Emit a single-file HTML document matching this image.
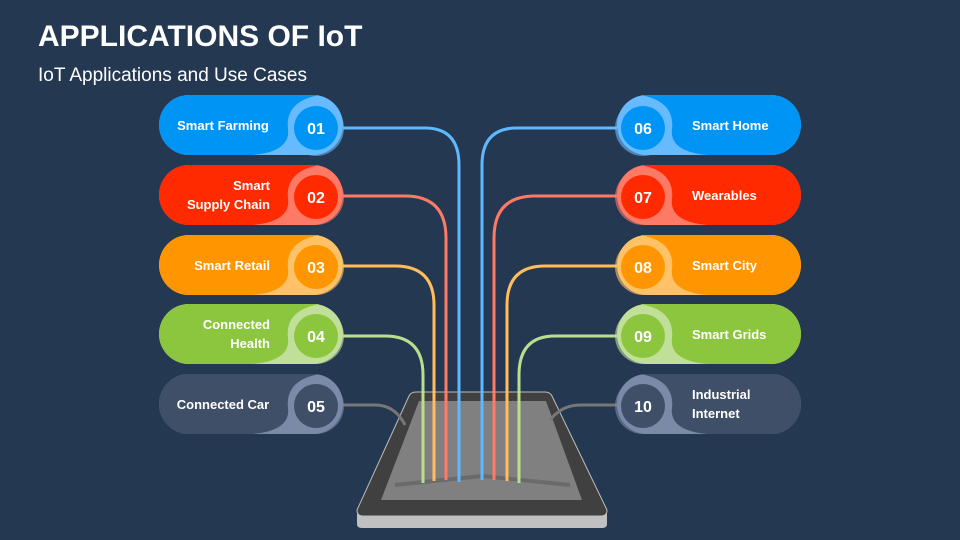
<!DOCTYPE html>
<html><head><meta charset="utf-8"><style>
body{margin:0;background:#243851;}
svg{display:block;font-family:"Liberation Sans",sans-serif;}
</style></head><body>
<svg width="960" height="540" viewBox="0 0 960 540" xmlns="http://www.w3.org/2000/svg">
<rect width="960" height="540" fill="#243851"/>
<text x="38" y="46" fill="#fff" font-size="30" font-weight="bold">APPLICATIONS OF IoT</text>
<text x="38" y="81" fill="#fff" font-size="19">IoT Applications and Use Cases</text>

<!-- tablet -->
<path d="M357 513 L409 396 Q411 392 416 392 L545 392 Q550 392 552 396 L607 513 L607 524 Q607 528 602 528 L362 528 Q357 528 357 524 Z" fill="#c0c0c0"/>
<path d="M357 510 L409 396 Q411 392 416 392 L545 392 Q550 392 552 396 L607 510 Q607 516 601 516 L363 516 Q357 516 357 510 Z" fill="#404040" stroke="#bdbdbd" stroke-width="1"/>
<polygon points="419,401 546,401 582,500 381,500" fill="#808080"/>
<path d="M395 485 L482 476 L570 485" stroke="#555" stroke-width="4" fill="none" opacity="0.5"/>

<!-- connectors -->
<g fill="none" stroke-width="3">
<path d="M343 128 H425 Q459 128 459 165 V482" stroke="#5fb8ff"/>
<path d="M343 196 H405 Q446 196 446 238 V480" stroke="#ff7a66"/>
<path d="M343 266 H395 Q434 266 434 305 V481" stroke="#ffbd5c"/>
<path d="M343 336 H385 Q423 336 423 375 V483" stroke="#b9df8e"/>
<path d="M343 405 H375 Q395 405 405 425" stroke="#777"/>
<path d="M617 128 H517 Q482 128 482 165 V480" stroke="#5fb8ff"/>
<path d="M617 196 H535 Q494 196 494 238 V480" stroke="#ff7a66"/>
<path d="M617 266 H545 Q507 266 507 305 V481" stroke="#ffbd5c"/>
<path d="M617 336 H555 Q519 336 519 375 V483" stroke="#b9df8e"/>
<path d="M617 405 H580 Q562 405 550 420" stroke="#777"/>
</g>

<g font-weight="bold" fill="#fff">
<!-- left pills -->
<g transform="translate(0,95)">
<rect x="159" y="0" width="184" height="60" rx="30" fill="#66bbff"/>
<path d="M189 0 H320 C296 4 286 16 288 34 C290 50 276 58 252 60 H189 A30 30 0 0 1 189 0 Z" fill="#0095f5"/>
<circle cx="316" cy="33" r="28" fill="#66bbff" opacity="0.6"/>
<circle cx="316" cy="33" r="22" fill="#0095f5"/>
<text x="223" y="35" font-size="13" text-anchor="middle">Smart Farming</text>
<text x="316" y="39" font-size="16" text-anchor="middle">01</text>
</g>
<g transform="translate(0,165)">
<rect x="159" y="0" width="184" height="60" rx="30" fill="#ff7a66"/>
<path d="M189 0 H320 C296 4 286 16 288 34 C290 50 276 58 252 60 H189 A30 30 0 0 1 189 0 Z" fill="#ff2a00"/>
<circle cx="316" cy="32" r="28" fill="#ff7a66" opacity="0.6"/>
<circle cx="316" cy="32" r="22" fill="#ff2a00"/>
<text x="270" y="25" font-size="13" text-anchor="end">Smart</text>
<text x="270" y="44" font-size="13" text-anchor="end">Supply Chain</text>
<text x="316" y="38" font-size="16" text-anchor="middle">02</text>
</g>
<g transform="translate(0,235)">
<rect x="159" y="0" width="184" height="60" rx="30" fill="#ffc266"/>
<path d="M189 0 H320 C296 4 286 16 288 34 C290 50 276 58 252 60 H189 A30 30 0 0 1 189 0 Z" fill="#ff9500"/>
<circle cx="316" cy="32" r="28" fill="#ffc266" opacity="0.6"/>
<circle cx="316" cy="32" r="22" fill="#ff9500"/>
<text x="270" y="35" font-size="13" text-anchor="end">Smart Retail</text>
<text x="316" y="38" font-size="16" text-anchor="middle">03</text>
</g>
<g transform="translate(0,304)">
<rect x="159" y="0" width="184" height="60" rx="30" fill="#c0e09a"/>
<path d="M189 0 H320 C296 4 286 16 288 34 C290 50 276 58 252 60 H189 A30 30 0 0 1 189 0 Z" fill="#8cc63f"/>
<circle cx="316" cy="32" r="28" fill="#c0e09a" opacity="0.6"/>
<circle cx="316" cy="32" r="22" fill="#8cc63f"/>
<text x="270" y="25" font-size="13" text-anchor="end">Connected</text>
<text x="270" y="44" font-size="13" text-anchor="end">Health</text>
<text x="316" y="38" font-size="16" text-anchor="middle">04</text>
</g>
<g transform="translate(0,374)">
<rect x="159" y="0" width="184" height="60" rx="30" fill="#7a8ba8"/>
<path d="M189 0 H320 C296 4 286 16 288 34 C290 50 276 58 252 60 H189 A30 30 0 0 1 189 0 Z" fill="#3e4f67"/>
<circle cx="316" cy="32" r="28" fill="#7a8ba8" opacity="0.6"/>
<circle cx="316" cy="32" r="22" fill="#3e4f67"/>
<text x="223" y="35" font-size="13" text-anchor="middle">Connected Car</text>
<text x="316" y="38" font-size="16" text-anchor="middle">05</text>
</g>

<!-- right pills -->
<g transform="translate(0,95)">
<rect x="617" y="0" width="184" height="60" rx="30" fill="#66bbff"/>
<path d="M771 0 H640 C664 4 674 16 672 34 C670 50 684 58 708 60 H771 A30 30 0 0 0 771 0 Z" fill="#0095f5"/>
<circle cx="643" cy="33" r="28" fill="#66bbff" opacity="0.6"/>
<circle cx="643" cy="33" r="22" fill="#0095f5"/>
<text x="692" y="35" font-size="13">Smart Home</text>
<text x="643" y="39" font-size="16" text-anchor="middle">06</text>
</g>
<g transform="translate(0,165)">
<rect x="617" y="0" width="184" height="60" rx="30" fill="#ff7a66"/>
<path d="M771 0 H640 C664 4 674 16 672 34 C670 50 684 58 708 60 H771 A30 30 0 0 0 771 0 Z" fill="#ff2a00"/>
<circle cx="643" cy="32" r="28" fill="#ff7a66" opacity="0.6"/>
<circle cx="643" cy="32" r="22" fill="#ff2a00"/>
<text x="692" y="35" font-size="13">Wearables</text>
<text x="643" y="38" font-size="16" text-anchor="middle">07</text>
</g>
<g transform="translate(0,235)">
<rect x="617" y="0" width="184" height="60" rx="30" fill="#ffc266"/>
<path d="M771 0 H640 C664 4 674 16 672 34 C670 50 684 58 708 60 H771 A30 30 0 0 0 771 0 Z" fill="#ff9500"/>
<circle cx="643" cy="32" r="28" fill="#ffc266" opacity="0.6"/>
<circle cx="643" cy="32" r="22" fill="#ff9500"/>
<text x="692" y="35" font-size="13">Smart City</text>
<text x="643" y="38" font-size="16" text-anchor="middle">08</text>
</g>
<g transform="translate(0,304)">
<rect x="617" y="0" width="184" height="60" rx="30" fill="#c0e09a"/>
<path d="M771 0 H640 C664 4 674 16 672 34 C670 50 684 58 708 60 H771 A30 30 0 0 0 771 0 Z" fill="#8cc63f"/>
<circle cx="643" cy="32" r="28" fill="#c0e09a" opacity="0.6"/>
<circle cx="643" cy="32" r="22" fill="#8cc63f"/>
<text x="692" y="35" font-size="13">Smart Grids</text>
<text x="643" y="38" font-size="16" text-anchor="middle">09</text>
</g>
<g transform="translate(0,374)">
<rect x="617" y="0" width="184" height="60" rx="30" fill="#7a8ba8"/>
<path d="M771 0 H640 C664 4 674 16 672 34 C670 50 684 58 708 60 H771 A30 30 0 0 0 771 0 Z" fill="#3e4f67"/>
<circle cx="643" cy="32" r="28" fill="#7a8ba8" opacity="0.6"/>
<circle cx="643" cy="32" r="22" fill="#3e4f67"/>
<text x="692" y="25" font-size="13">Industrial</text>
<text x="692" y="44" font-size="13">Internet</text>
<text x="643" y="38" font-size="16" text-anchor="middle">10</text>
</g>
</g>
</svg>
</body></html>
